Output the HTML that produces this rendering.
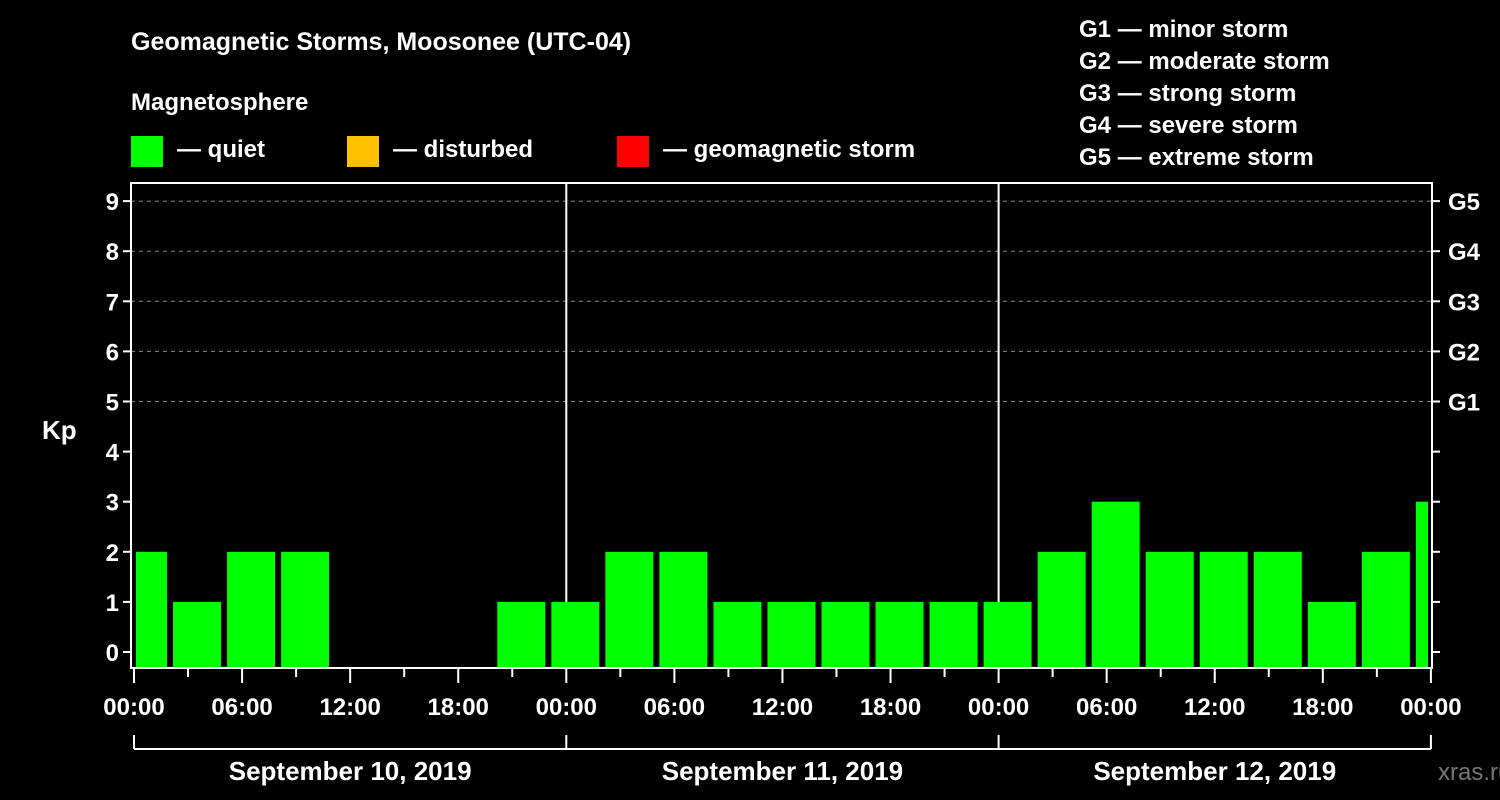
<!DOCTYPE html>
<html><head><meta charset="utf-8"><style>
html,body{margin:0;padding:0;background:#000;}
svg{display:block;font-family:"Liberation Sans",Arial,sans-serif;font-weight:bold;}
</style></head><body>
<svg id="chart" width="1500" height="800" viewBox="0 0 1500 800">
<rect x="0" y="0" width="1500" height="800" fill="#000"/>
<text x="131" y="50" fill="#fff" font-size="25">Geomagnetic Storms, Moosonee (UTC-04)</text>
<text x="131" y="110" fill="#fff" font-size="24">Magnetosphere</text>
<g><rect x="131" y="136" width="32" height="31" fill="#00ff00"/><text x="177" y="157" fill="#fff" font-size="24">— quiet</text></g>
<g><rect x="347" y="136" width="32" height="31" fill="#ffc000"/><text x="393" y="157" fill="#fff" font-size="24">— disturbed</text></g>
<g><rect x="617" y="136" width="32" height="31" fill="#ff0000"/><text x="663" y="157" fill="#fff" font-size="24">— geomagnetic storm</text></g>
<g fill="#fff" font-size="24">
<text x="1079" y="37">G1 — minor storm</text>
<text x="1079" y="69">G2 — moderate storm</text>
<text x="1079" y="101">G3 — strong storm</text>
<text x="1079" y="133">G4 — severe storm</text>
<text x="1079" y="165">G5 — extreme storm</text>
</g>
<text x="42" y="439" fill="#fff" font-size="26">Kp</text>
<text x="1438" y="780" fill="#777" font-size="24" font-weight="normal">xras.ru</text>
<g id="grid"></g>
<g id="bars"></g>
<g id="axes"></g>
</svg>
<script>
const dayLabels=["September 10, 2019","September 11, 2019","September 12, 2019"];
const hourLabels=["00:00","06:00","12:00","18:00"];
const kpValues=[2,1,2,2,0,0,0,1,1,2,2,1,1,1,1,1,1,2,3,2,2,2,1,2,3];
const gLabels=["G1","G2","G3","G4","G5"];
const NS="http://www.w3.org/2000/svg";
const X0=134,DAYW=432.3,Y0=652,YU=50.1,BOTTOM=668,TOP=183,LEFT=131,RIGHT=1432;
const xH=h=>X0+h*DAYW/24;
const yK=k=>Y0-k*YU;
function mk(tag,attrs,parent){const e=document.createElementNS(NS,tag);for(const k in attrs)e.setAttribute(k,attrs[k]);parent.appendChild(e);return e;}
const grid=document.getElementById('grid'),bars=document.getElementById('bars'),axes=document.getElementById('axes');
for(let k=5;k<=9;k++){const l=mk('line',{x1:LEFT,x2:RIGHT,y1:yK(k),y2:yK(k),stroke:'#888','stroke-dasharray':'4,4','stroke-width':1},grid);

}
for(let d=1;d<3;d++){const l=mk('line',{x1:xH(24*d),x2:xH(24*d),y1:TOP,y2:BOTTOM,stroke:'#fff','stroke-width':2},grid);

}
kpValues.forEach((v,i)=>{
 if(v<=0)return;
 const c=xH(i*3-1+1.5);
 let x1=Math.max(c-24,136),x2=Math.min(c+24,1428);
 const r=mk('rect',{x:x1,y:yK(v),width:x2-x1,height:BOTTOM-yK(v),fill:v>=5?'#ff0000':(v>=4?'#ffc000':'#00ff00')},bars);
 
 
});
mk('rect',{x:LEFT,y:TOP,width:RIGHT-LEFT,height:BOTTOM-TOP,fill:'none',stroke:'#fff','stroke-width':2},axes);
for(let k=0;k<=9;k++){
 mk('line',{x1:LEFT-8,x2:LEFT,y1:yK(k),y2:yK(k),stroke:'#fff','stroke-width':2},axes);
 mk('line',{x1:RIGHT,x2:RIGHT+8,y1:yK(k),y2:yK(k),stroke:'#fff','stroke-width':2},axes);
 const t=mk('text',{x:LEFT-12,y:yK(k)+9,fill:'#fff','font-size':24,'text-anchor':'end'},axes);
 t.textContent=k;
 
 
}
gLabels.forEach((g,i)=>{const t=mk('text',{x:1448,y:yK(5+i)+9,fill:'#fff','font-size':24},axes);t.textContent=g;
 
 });
for(let h=0;h<=72;h+=3){
 const major=h%6===0;
 mk('line',{x1:xH(h),x2:xH(h),y1:BOTTOM,y2:BOTTOM+(major?15:9),stroke:'#fff','stroke-width':2},axes);
 if(major){const t=mk('text',{x:xH(h),y:715,fill:'#fff','font-size':24,'text-anchor':'middle'},axes);
  t.textContent=hourLabels[(h/6)%4];
  
  }
}
mk('line',{x1:xH(0),x2:xH(72),y1:749,y2:749,stroke:'#fff','stroke-width':2},axes);
for(let d=0;d<=3;d++)mk('line',{x1:xH(24*d),x2:xH(24*d),y1:735,y2:749,stroke:'#fff','stroke-width':2},axes);
dayLabels.forEach((s,d)=>{const t=mk('text',{x:xH(24*d+12),y:780,fill:'#fff','font-size':26,'text-anchor':'middle'},axes);t.textContent=s;
 
 });
</script>
</body></html>
